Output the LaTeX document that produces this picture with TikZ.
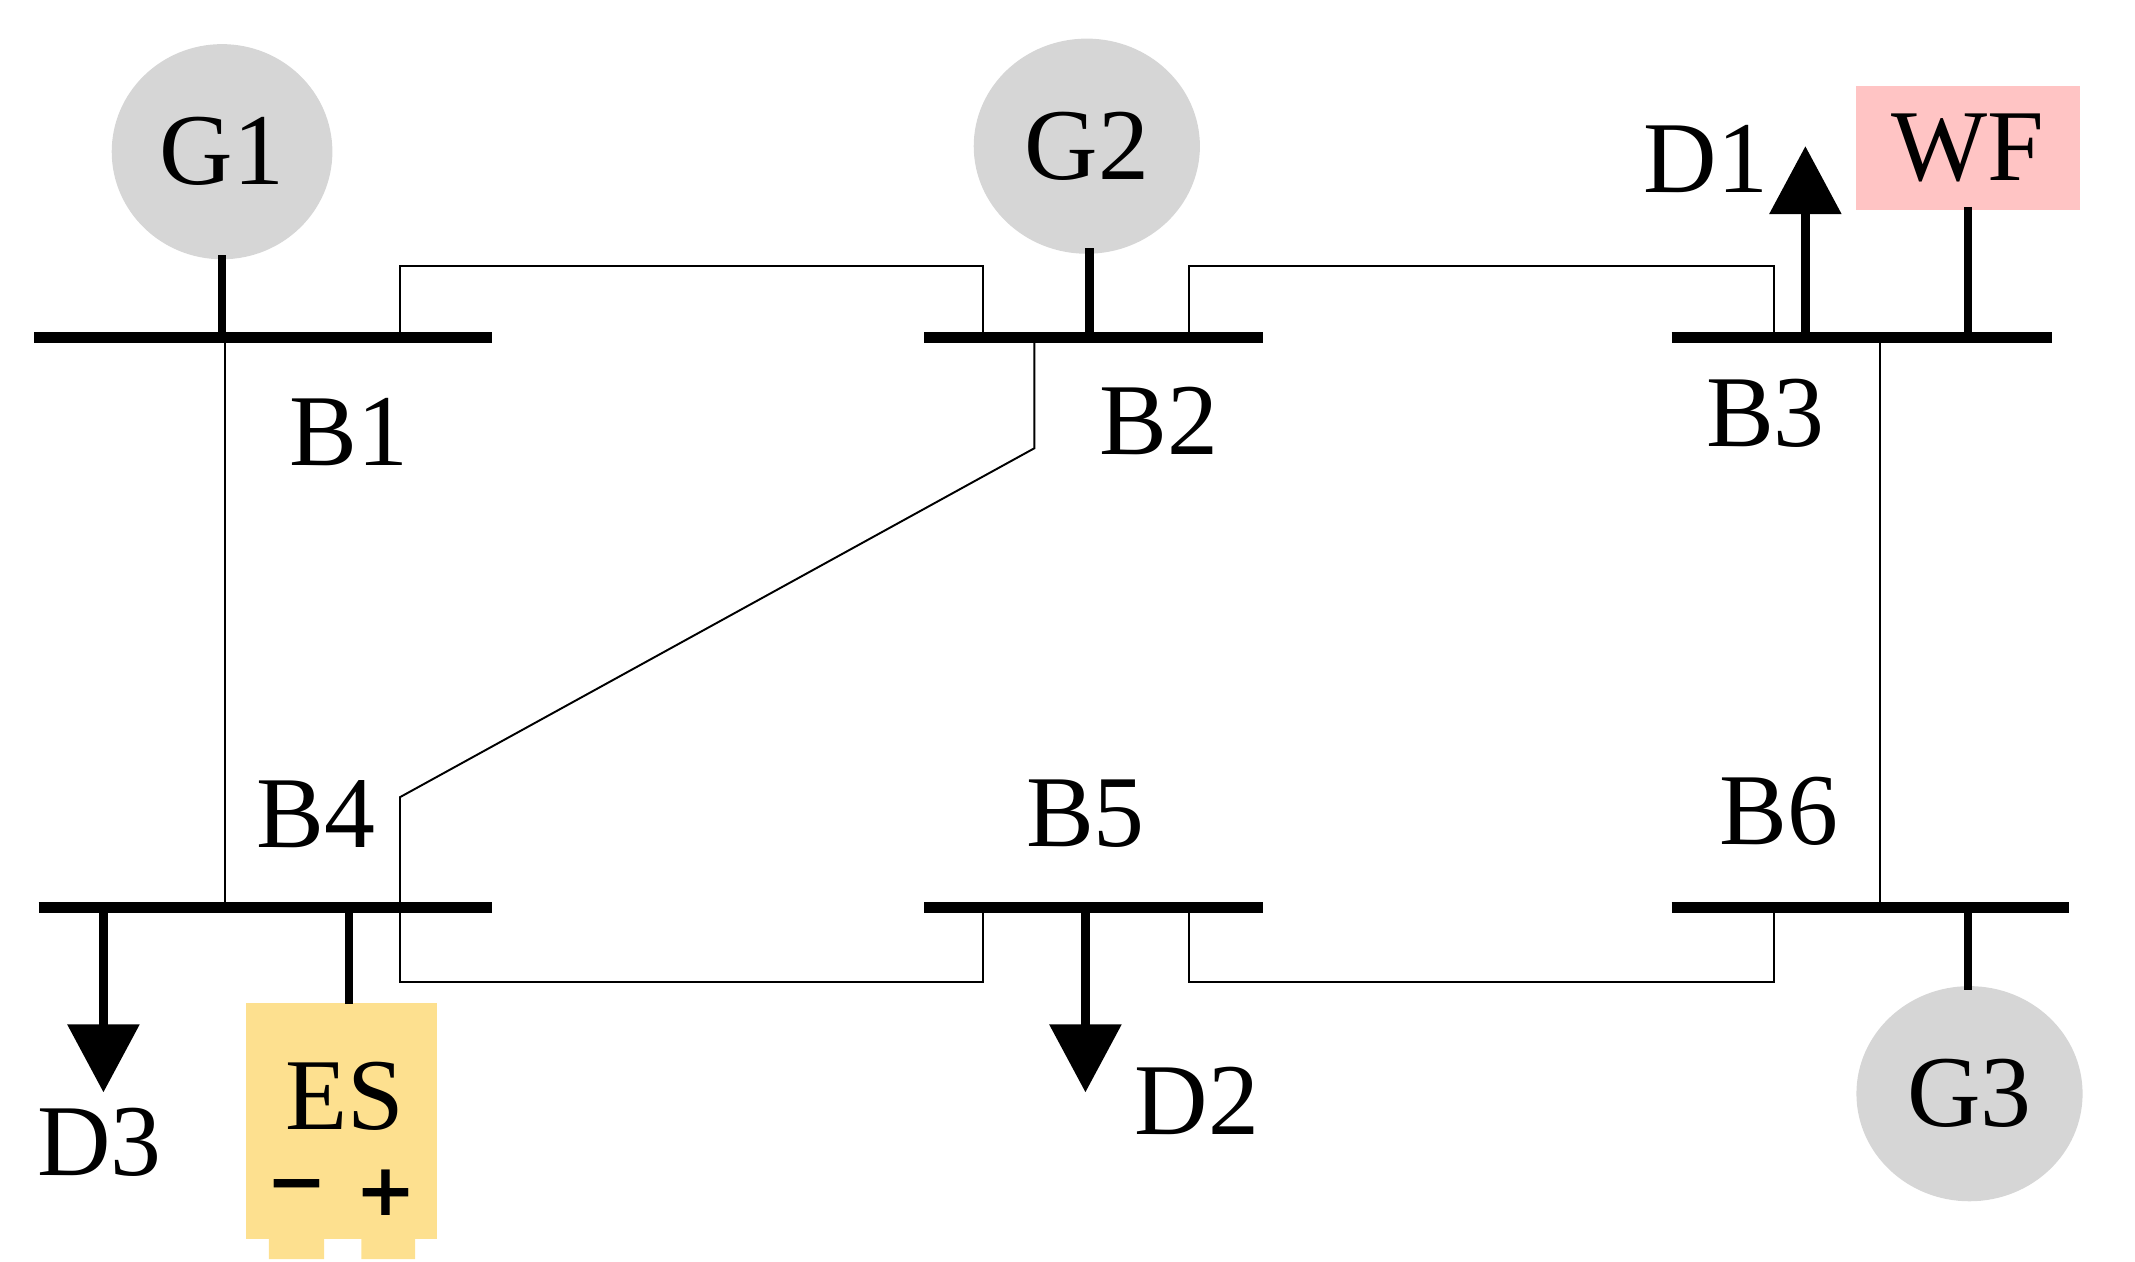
\documentclass[tikz,border=0pt]{standalone}
\usepackage{fontspec}
\setmainfont{Liberation Serif}
\newfontfamily\signfont{DejaVu Sans}
\usetikzlibrary{arrows.meta}
\definecolor{wfpink}{RGB}{255,196,196}
\definecolor{esyel}{RGB}{253,224,143}
\definecolor{gengray}{RGB}{214,214,214}
\begin{document}
\begin{tikzpicture}[x=0.02cm,y=-0.02cm,
  bus/.style={line width=4.5pt},
  stem/.style={line width=3.4pt},
  ln/.style={line width=0.8pt},
  ld/.style={line width=3.4pt,-{Triangle[width=29pt,length=28pt]}},
  lbl/.style={font=\fontsize{42}{42}\selectfont,inner sep=0pt},
  sgn/.style={font=\signfont\bfseries\fontsize{30}{30}\selectfont,inner sep=0pt}]
\useasboundingbox (0,0) rectangle (1548,915);
% generators
\fill[gengray] (161,110) ellipse [x radius=80,y radius=78];
\node[lbl] (g1) at (161,110) {G1};
\fill[gengray] (788,106) ellipse [x radius=82,y radius=78];
\node[lbl] (g2) at (788,106) {G2};
\fill[gengray] (1428,793) ellipse [x radius=82,y radius=78];
\node[lbl] (g3) at (1428,793) {G3};
\node[fill=wfpink,minimum width=3.24cm,minimum height=1.8cm,inner sep=0pt,font=\fontsize{42}{42}\selectfont] (wf) at (1427,107) {WF};
\node[fill=esyel,minimum width=2.78cm,minimum height=3.42cm,inner sep=0pt] (es) at (247.5,812.5) {};
\fill[esyel] (195,898) rectangle (235,913) (262,898) rectangle (301,913);
\node[lbl] at (250,795) {ES};
\node[sgn] at (215,865) {−};
\node[sgn] at (280,865) {+};
% buses
\coordinate (b1l) at (25,245); \coordinate (b1r) at (357,245);
\coordinate (b2l) at (670,245); \coordinate (b2r) at (916,245);
\coordinate (b3l) at (1212,245); \coordinate (b3r) at (1488,245);
\coordinate (b4l) at (28,658); \coordinate (b4r) at (357,658);
\coordinate (b5l) at (670,658); \coordinate (b5r) at (916,658);
\coordinate (b6l) at (1212,658); \coordinate (b6r) at (1500,658);
\draw[bus] (b1l)--(b1r); \draw[bus] (b2l)--(b2r); \draw[bus] (b3l)--(b3r);
\draw[bus] (b4l)--(b4r); \draw[bus] (b5l)--(b5r); \draw[bus] (b6l)--(b6r);
\node[lbl] at (253,313) {B1};
\node[lbl] at (840,305) {B2};
\node[lbl] at (1280,300) {B3};
\node[lbl] at (229,590) {B4};
\node[lbl] at (787,590) {B5};
\node[lbl] at (1290,588) {B6};
% stems
\draw[stem] (161,185)--(161,245);
\draw[stem] (790,180)--(790,245);
\draw[stem] (1427,150)--(1427,245);
\draw[stem] (1427,658)--(1427,718);
\draw[stem] (253,658)--(253,728);
% loads
\draw[ld] (1309,245)--(1309,106);
\node[lbl] at (1237,115) {D1};
\draw[ld] (75,658)--(75,792);
\node[lbl] at (72,828) {D3};
\draw[ld] (787,658)--(787,792);
\node[lbl] at (868,798) {D2};
% lines
\draw[ln] (290,245)--(290,193)--(713,193)--(713,245);
\draw[ln] (862,245)--(862,193)--(1286,193)--(1286,245);
\draw[ln] (163,245)--(163,658);
\draw[ln] (750,245)--(750,325)--(290,578)--(290,658);
\draw[ln] (1363,245)--(1363,658);
\draw[ln] (290,658)--(290,712)--(713,712)--(713,658);
\draw[ln] (862,658)--(862,712)--(1286,712)--(1286,658);
\end{tikzpicture}
\end{document}
